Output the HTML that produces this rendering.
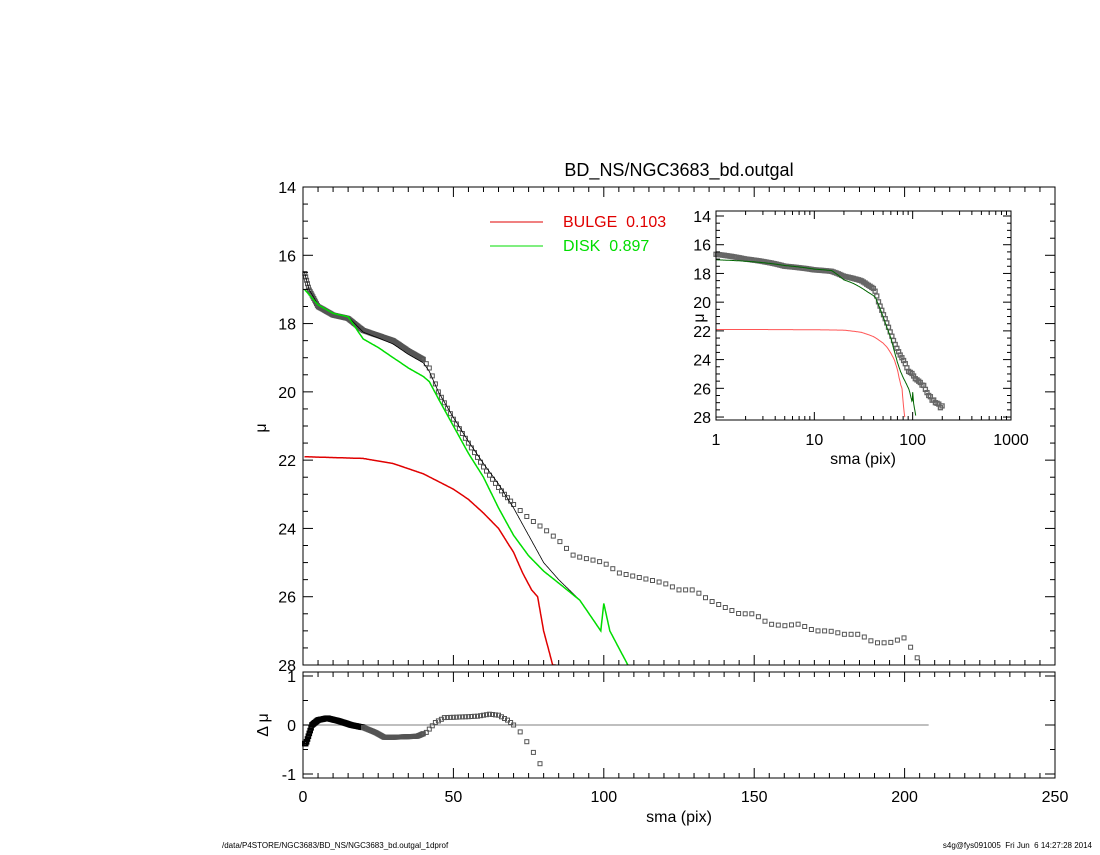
<!DOCTYPE html>
<html><head><meta charset="utf-8"><style>
body{margin:0;background:#fff;}
svg text{font-family:"Liberation Sans",sans-serif;white-space:pre;}
</style></head><body>
<svg id="s" width="1100" height="850" xmlns="http://www.w3.org/2000/svg"></svg>
<script>
const S=document.getElementById('s');let h='';
function interp(k,r){if(r<=k[0][0])return k[0][1];for(let i=1;i<k.length;i++){if(r<=k[i][0]){const a=k[i-1],b=k[i];return a[1]+(b[1]-a[1])*(r-a[0])/(b[0]-a[0]);}}return k[k.length-1][1];}
const D=[[0.5,16.5],[2,17.0],[5,17.5],[10,17.75],[15,17.85],[20,18.2],[25,18.35],[30,18.5],[35,18.8],[40,19.05],[42,19.3],[45,20.0],[50,20.8],[55,21.5],[60,22.2],[65,22.8],[70,23.3],[75,23.7],[80,24.0],[85,24.35],[90,24.8],[95,24.9],[100,25.0],[105,25.3],[110,25.4],[115,25.5],[120,25.6],[125,25.8],[130,25.8],[135,26.1],[140,26.3],[145,26.5],[150,26.5],[155,26.8],[160,26.85],[165,26.8],[170,27.0],[175,27.0],[180,27.1],[185,27.1],[190,27.35],[195,27.35],[200,27.2],[205,27.9]];
const G=[[0.5,17.0],[5,17.45],[10,17.7],[15,17.8],[20,18.45],[25,18.7],[30,19.0],[35,19.3],[40,19.55],[42,19.7],[45,20.2],[50,21.0],[55,21.8],[60,22.5],[65,23.4],[70,24.2],[75,24.8],[80,25.25],[85,25.6],[92,26.1],[99,27.0],[100,26.2],[102,27.0],[108,28.0]];
const R=[[0.5,21.9],[20,21.95],[30,22.1],[40,22.4],[50,22.85],[55,23.15],[60,23.55],[65,24.0],[70,24.7],[73,25.3],[76,25.8],[78,26.0],[80,27.0],[83,28.0]];
const T=[[0.5,16.5],[2,17.0],[5,17.45],[10,17.7],[15,17.8],[20,18.25],[25,18.42],[30,18.6],[35,18.9],[40,19.15],[42,19.4],[45,20.0],[50,20.75],[55,21.45],[60,22.1],[65,22.7],[70,23.4],[75,24.2],[80,25.0],[85,25.5],[92,26.1],[99,27.0],[100,26.2],[102,27.0],[108,28.0]];
const RES=[[1,-0.38],[3,0],[5,0.1],[8,0.14],[12,0.08],[16,0.0],[20,-0.05],[24,-0.15],[27,-0.25],[30,-0.25],[38,-0.23],[41,-0.15],[44,0.05],[47,0.15],[55,0.17],[58,0.18],[62,0.22],[65,0.2],[68,0.1],[70,0],[71,-0.05],[73,-0.2],[75,-0.4],[77,-0.6],[78.5,-0.75],[80,-0.95]];
let rs=[];for(let r=0.6;r<40;r+=0.3)rs.push(r);for(let r=40;r<70;r+=1)rs.push(r);for(let r=70;r<=205;r+=2.2)rs.push(r);
const X=r=>303+r*752/250, Y=m=>187+(m-14)*478/14;
function line(k,r0,r1,col,w,fx,fy,clip){let p=[];for(let r=r0;r<=r1;r+=0.25)p.push(fx(r).toFixed(1)+','+fy(interp(k,r)).toFixed(1));return `<polyline points="${p.join(' ')}" fill="none" stroke="${col}" stroke-width="${w}" clip-path="url(#${clip})"/>`;}
h+=`<defs><clipPath id="cm"><rect x="303" y="187" width="752" height="478"/></clipPath><clipPath id="ci"><rect x="716" y="211" width="295" height="209"/></clipPath></defs>`;
for(const r of rs){const m=interp(D,r);if(m>28.1)continue;h+=`<rect x="${(X(r)-2).toFixed(1)}" y="${(Y(m)-2).toFixed(1)}" width="4" height="4" fill="none" stroke="#555" stroke-width="1"/>`;}
h+=line(T,0.5,108,'#000',0.8,X,Y,'cm');
h+=line(G,0.5,108,'#00dd00',1.5,X,Y,'cm');
h+=line(R,0.5,84,'#e00000',1.5,X,Y,'cm');
h+=`<rect x="303" y="187" width="752" height="478" fill="none" stroke="#000" stroke-width="1"/>`;
for(let v=0;v<=250;v+=5){const x=X(v),L=v%50==0?10:5;h+=`<line x1="${x}" y1="665" x2="${x}" y2="${665-L}" stroke="#000"/><line x1="${x}" y1="187" x2="${x}" y2="${187+L}" stroke="#000"/>`;}
for(let m=14;m<=28;m+=0.5){const y=Y(m),L=m%2==0?10:5;h+=`<line x1="303" y1="${y}" x2="${303+L}" y2="${y}" stroke="#000"/><line x1="1055" y1="${y}" x2="${1055-L}" y2="${y}" stroke="#000"/>`;if(m%2==0)h+=`<text x="296" y="${y+6}" font-size="16" text-anchor="end">${m}</text>`;}
h+=`<text x="266" y="428" font-size="16" text-anchor="middle" transform="rotate(-90 266 428)">μ</text>`;
h+=`<text x="679" y="176" font-size="18" text-anchor="middle">BD_NS/NGC3683_bd.outgal</text>`;
h+=`<line x1="490" y1="222" x2="543" y2="222" stroke="#e00000"/><text x="563" y="227" font-size="16" fill="#e00000">BULGE&#160;&#160;0.103</text>`;
h+=`<line x1="490" y1="246" x2="543" y2="246" stroke="#00dd00"/><text x="563" y="251" font-size="16" fill="#00dd00">DISK&#160;&#160;0.897</text>`;
const YR=v=>725-v*49;
h+=`<line x1="303" y1="725" x2="${X(208)}" y2="725" stroke="#999" stroke-width="1.2"/>`;
for(const r of rs){if(r>81)continue;const v=interp(RES,r);h+=`<rect x="${(X(r)-2).toFixed(1)}" y="${(YR(v)-2).toFixed(1)}" width="4" height="4" fill="none" stroke="${r<20?'#000':'#555'}" stroke-width="${r<20?1.6:1}"/>`;}
h+=`<rect x="303" y="672" width="752" height="106" fill="none" stroke="#000"/>`;
for(let v=0;v<=250;v+=5){const x=X(v),L=v%50==0?10:5;h+=`<line x1="${x}" y1="778" x2="${x}" y2="${778-L}" stroke="#000"/><line x1="${x}" y1="672" x2="${x}" y2="${672+L}" stroke="#000"/>`;if(v%50==0)h+=`<text x="${x}" y="802" font-size="16" text-anchor="middle">${v}</text>`;}
for(let v=-1;v<=1;v+=0.5){const y=YR(v),L=v%1==0?10:5;h+=`<line x1="303" y1="${y}" x2="${303+L}" y2="${y}" stroke="#000"/><line x1="1055" y1="${y}" x2="${1055-L}" y2="${y}" stroke="#000"/>`;if(v%1==0)h+=`<text x="296" y="${y+6}" font-size="16" text-anchor="end">${v}</text>`;}
h+=`<text x="268" y="725" font-size="16" text-anchor="middle" transform="rotate(-90 268 725)">Δ μ</text>`;
h+=`<text x="679" y="822" font-size="16" text-anchor="middle">sma (pix)</text>`;
const XI=r=>716+Math.log10(r)*98.33, YI=m=>216+(m-14)*14.36;
let ri=[];for(let r=1;r<=205;r*=1.04)ri.push(r);
for(const r of ri){const m=interp(D,r);if(m>28.3)continue;h+=`<rect x="${(XI(r)-2).toFixed(1)}" y="${(YI(m)-2).toFixed(1)}" width="4" height="4" fill="none" stroke="#666" stroke-width="1.3"/>`;}
function lline(k,r1,col,w){let p=[];for(let r=1;r<=r1;r*=1.01)p.push(XI(r).toFixed(1)+','+YI(interp(k,r)).toFixed(1));return `<polyline points="${p.join(' ')}" fill="none" stroke="${col}" stroke-width="${w}" clip-path="url(#ci)"/>`;}
h+=lline(G,108,'#006600',1);h+=lline(R,84,'#ff5555',1);
h+=`<rect x="716" y="211" width="295" height="209" fill="none" stroke="#000"/>`;
for(let d=0;d<3;d++)for(let k=1;k<10;k++){const x=XI(Math.pow(10,d)*k),L=k==1?8:4;h+=`<line x1="${x}" y1="420" x2="${x}" y2="${420-L}" stroke="#000"/><line x1="${x}" y1="211" x2="${x}" y2="${211+L}" stroke="#000"/>`;}
[1,10,100,1000].forEach(v=>{h+=`<text x="${XI(v)}" y="445" font-size="16" text-anchor="middle">${v}</text>`;});
for(let m=14;m<=28;m+=0.5){const y=YI(m),L=m%2==0?8:4;h+=`<line x1="716" y1="${y}" x2="${716+L}" y2="${y}" stroke="#000"/><line x1="1011" y1="${y}" x2="${1011-L}" y2="${y}" stroke="#000"/>`;if(m%2==0)h+=`<text x="711" y="${y+6}" font-size="16" text-anchor="end">${m}</text>`;}
h+=`<text x="704" y="318" font-size="16" text-anchor="middle" transform="rotate(-90 704 318)">μ</text>`;
h+=`<text x="863" y="464" font-size="16" text-anchor="middle">sma (pix)</text>`;
h+=`<text x="222" y="848" font-size="8">/data/P4STORE/NGC3683/BD_NS/NGC3683_bd.outgal_1dprof</text>`;
h+=`<text x="1092" y="848" font-size="8" text-anchor="end">s4g@fys091005  Fri Jun  6 14:27:28 2014</text>`;
S.innerHTML=h;
</script></body></html>
